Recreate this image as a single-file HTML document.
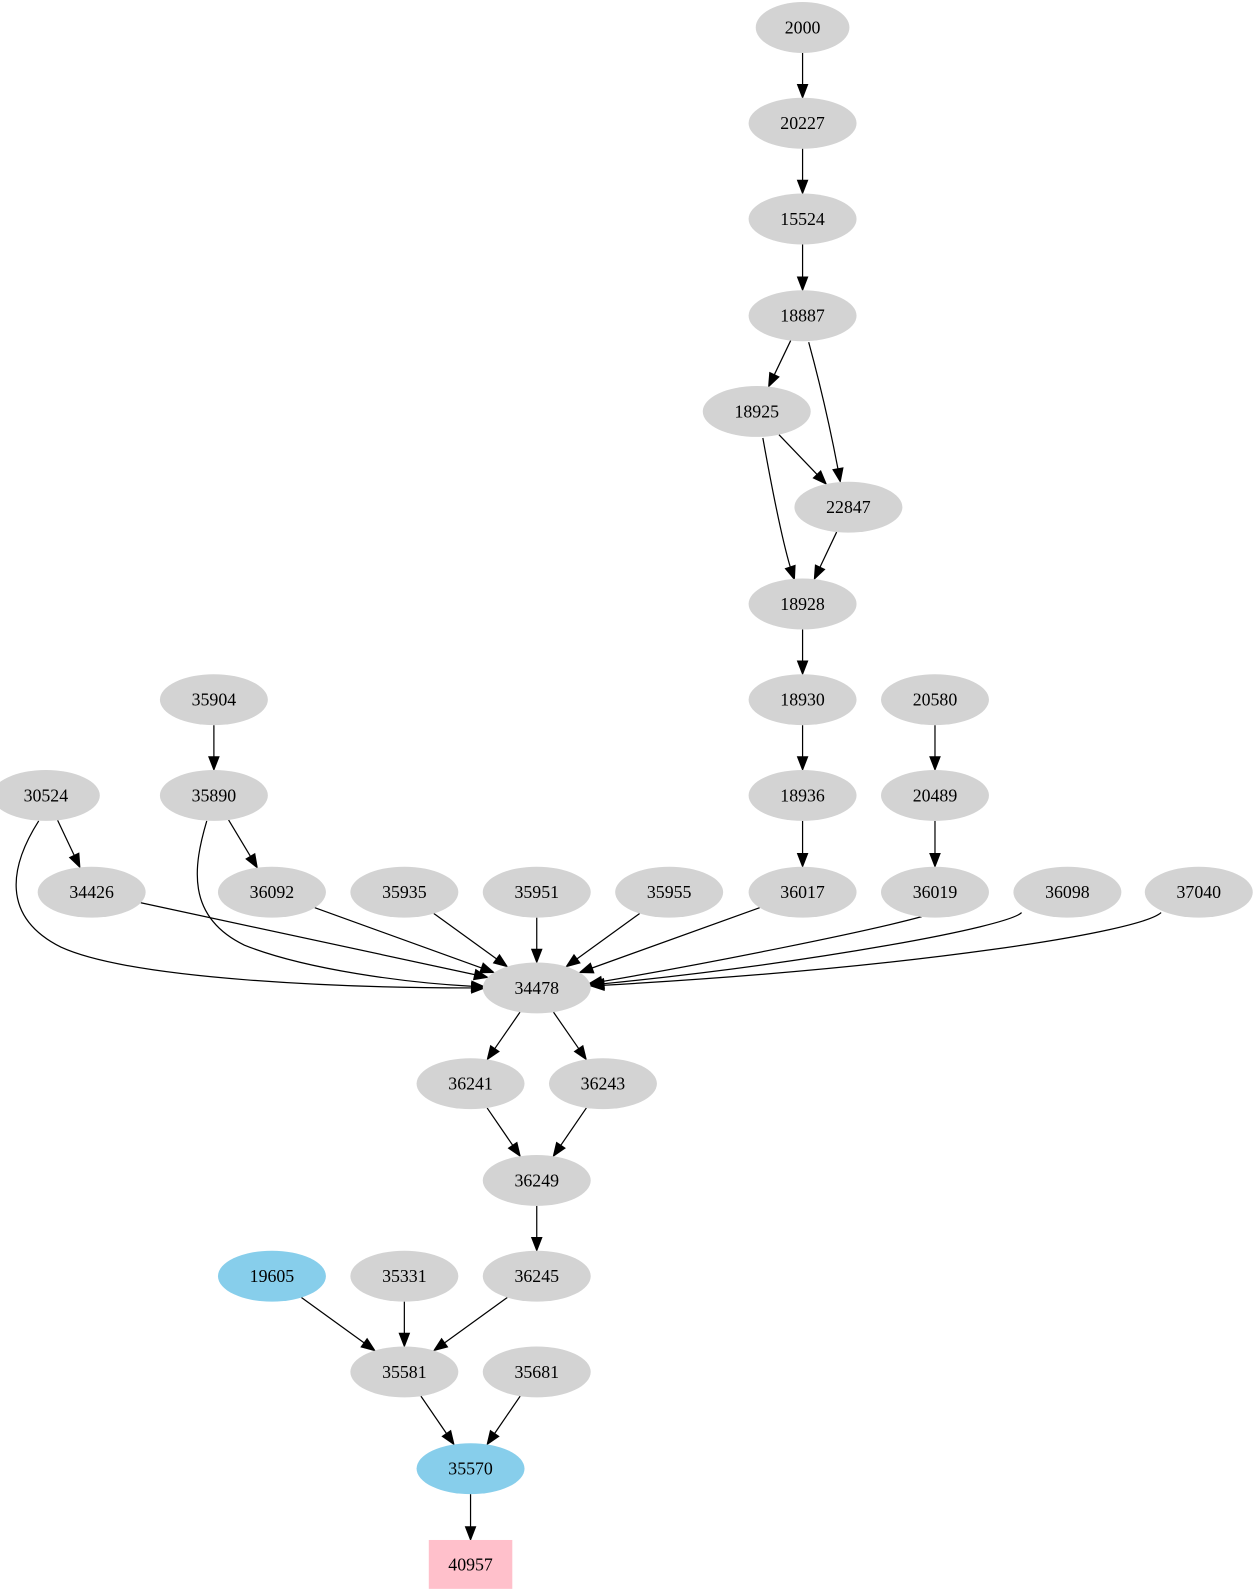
<!DOCTYPE html>
<html><head><meta charset="utf-8"><style>
html,body{margin:0;padding:0;background:#fff;}
svg{display:block;}
text{font-family:"Liberation Serif",serif;font-size:17.5px;text-anchor:middle;dominant-baseline:central;fill:#000;}
</style></head><body>
<svg width="1257" height="1595" viewBox="0 0 1257 1595" xmlns="http://www.w3.org/2000/svg"><g id="g" transform="scale(1.0185)"></g></svg>
<script>
const N={
"2000":[788,27],"20227":[788,121],"15524":[788,215],"18887":[788,310],"18925":[743,404],
"22847":[833,498],"18928":[788,593],"18930":[788,687],"18936":[788,781],"36017":[788,876],
"20580":[918,687],"20489":[918,781],"36019":[918,876],"35904":[210,687],"35890":[210,781],
"36092":[267,876],"30524":[45,781],"34426":[90,876],"35935":[397,876],"35951":[527,876],
"35955":[657,876],"36098":[1048,876],"37040":[1177,876],"34478":[527,970],"36241":[462,1064],
"36243":[592,1064],"36249":[527,1159],"36245":[527,1253],"19605":[267,1253],"35331":[397,1253],
"35581":[397,1347],"35681":[527,1347],"35570":[462,1442],"40957":[462,1536]};
const RX=53,RY=25;
const g=document.getElementById('g');
let s='';
function bnd(c,dx,dy,box){
  if(box){const t=Math.min(41/Math.abs(dx||1e-9),24/Math.abs(dy||1e-9));return [c[0]+dx*t,c[1]+dy*t];}
  const t=1/Math.sqrt((dx*dx)/(RX*RX)+(dy*dy)/(RY*RY));return [c[0]+dx*t,c[1]+dy*t];
}
function arrow(px,py,ex,ey){
  const dx=ex-px,dy=ey-py,l=Math.hypot(dx,dy),ux=dx/l,uy=dy/l,L=13,W=5;
  const bx=ex-ux*L,by=ey-uy*L;
  return {bx,by,poly:`<polygon points="${ex},${ey} ${bx-uy*W},${by+ux*W} ${bx+uy*W},${by-ux*W}" fill="#000" stroke="#000"/>`};
}
const E=[["2000","20227"],["20227","15524"],["15524","18887"],["18887","18925"],["18925","22847"],
["22847","18928"],["18928","18930"],["18930","18936"],["18936","36017"],["20580","20489"],["20489","36019"],
["35904","35890"],["35890","36092"],["30524","34426"],["34426","34478"],["36092","34478"],["35935","34478"],
["35951","34478"],["35955","34478"],["36017","34478"],
["34478","36241"],["34478","36243"],["36241","36249"],["36243","36249"],["36249","36245"],["19605","35581"],
["35331","35581"],["36245","35581"],["35581","35570"],["35681","35570"],["35570","40957"]];
for(const [a,b] of E){
  const A=N[a],B=N[b],dx=B[0]-A[0],dy=B[1]-A[1];
  const p=bnd(A,dx,dy,false),q=bnd(B,-dx,-dy,b==="40957");
  const ar=arrow(p[0],p[1],q[0],q[1]);
  s+=`<line x1="${p[0]}" y1="${p[1]}" x2="${ar.bx}" y2="${ar.by}" stroke="#000" stroke-width="1.2"/>`+ar.poly;
}
const C=[
 ["M38,806 C10,850 0,900 60,930 C130,962 340,970",420,970,476,970],
 ["M203,806 C190,850 182,900 240,928 C300,952 400,965",420,966,476,969],
 ["M749,430 C758,480 768,530",772,545,780,569],
 ["M794,336 C806,380 816,425",820,445,825,473],
 ["M905,900 C850,915 700,945",640,955,578,966],
 ["M1003,896 C990,910 800,945",680,958,580,967],
 ["M1140,896 C1120,915 900,950",700,962,580,968]
];
for(const c of C){const ar=arrow(c[1],c[2],c[3],c[4]);s+=`<path d="${c[0]} ${ar.bx},${ar.by}" fill="none" stroke="#000" stroke-width="1.2"/>`+ar.poly;}
for(const k in N){
  const [x,y]=N[k];
  if(k==="40957"){s+=`<rect x="421" y="1512" width="82" height="48" fill="#ffc0cb"/>`;}
  else{const f=(k==="19605"||k==="35570")?"#87ceeb":"#d3d3d3";
   s+=`<ellipse cx="${x}" cy="${y}" rx="${k==="2000"?46:RX}" ry="${RY}" fill="${f}"/>`;}
  s+=`<text x="${x}" y="${y}">${k}</text>`;
}
g.innerHTML=s;
</script>
</body></html>
